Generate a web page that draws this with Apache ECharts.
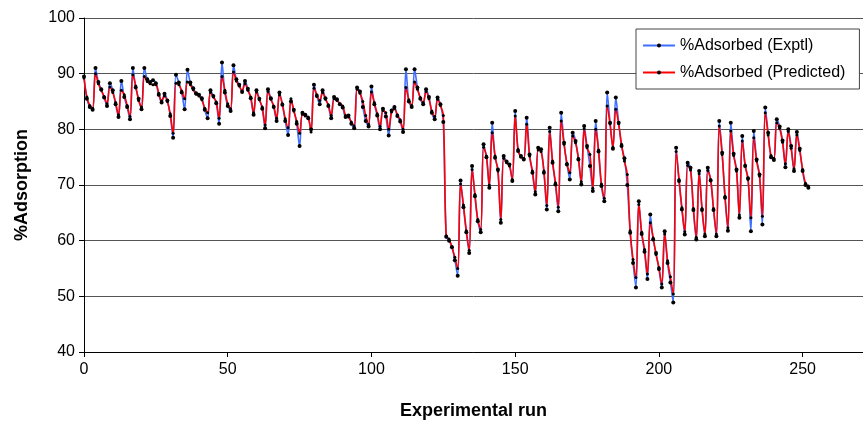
<!DOCTYPE html>
<html>
<head>
<meta charset="utf-8">
<script src="https://cdn.jsdelivr.net/npm/echarts@6/dist/echarts.min.js"></script>
<style>
  html, body { margin: 0; padding: 0; background: #fff; }
  #chart { width: 863px; height: 421px; }
</style>
</head>
<body>
<div id="chart"></div>
<script>
// %Adsorbed per experimental run (index 0..252)
const exptl = [
  89.5, 85.5, 84.0, 83.5, 91.0, 88.5, 87.2, 85.7, 84.2, 88.3,
  87.0, 84.5, 82.2, 88.7, 85.8, 84.0, 81.8, 91.0, 87.5, 85.5,
  83.6, 91.0, 89.0, 88.5, 88.8, 88.3, 86.2, 84.8, 86.4, 85.2,
  82.4, 78.5, 89.8, 88.4, 86.6, 83.6, 90.7, 88.4, 87.4, 86.5,
  86.2, 85.6, 83.5, 82.0, 87.0, 86.0, 84.7, 81.0, 92.0, 86.6,
  84.2, 83.3, 91.5, 89.0, 88.0, 86.7, 88.7, 87.3, 85.6, 82.6,
  87.0, 85.5, 83.7, 80.2, 87.2, 85.6, 84.0, 81.5, 86.6, 84.4,
  81.5, 79.0, 85.0, 83.5, 81.0, 77.0, 83.0, 82.6, 82.0, 80.0,
  88.0, 86.0, 84.5, 87.0, 85.6, 84.2, 82.0, 85.8, 85.4, 84.5,
  83.9, 82.2, 82.5, 81.0, 80.2, 87.5, 86.8, 84.0, 81.5, 80.5,
  87.7, 84.5, 82.5, 80.0, 83.7, 82.3, 78.9, 83.4, 84.0, 82.4,
  81.4, 79.5, 90.8, 85.0, 84.0, 90.8, 87.5, 85.5, 84.5, 87.2,
  85.8, 83.0, 81.8, 85.7, 84.5, 81.3, 60.7, 60.0, 58.8, 56.5,
  53.7, 70.8, 66.0, 61.5, 57.8, 73.4, 68.0, 63.5, 61.5, 77.3,
  75.0, 69.5, 81.2, 74.9, 72.8, 63.2, 75.2, 74.2, 73.7, 70.7,
  83.3, 76.1, 75.2, 74.6, 82.1, 75.5, 72.2, 68.3, 76.7, 76.4,
  72.2, 65.6, 80.3, 74.0, 70.1, 65.3, 83.0, 77.6, 73.7, 71.0,
  79.4, 77.9, 74.6, 70.1, 80.6, 77.0, 73.4, 68.9, 81.5, 76.0,
  69.8, 67.1, 86.6, 81.2, 76.5, 85.7, 81.2, 77.0, 74.8, 70.0,
  61.4, 56.0, 51.6, 67.1, 61.2, 58.0, 53.1, 64.7, 60.2, 57.8,
  54.9, 51.6, 61.7, 56.0, 52.5, 48.9, 76.7, 70.7, 65.6, 61.1,
  74.0, 73.1, 65.5, 60.2, 72.5, 65.5, 60.8, 73.1, 70.8, 65.5,
  60.8, 81.5, 75.8, 67.7, 61.8, 81.2, 75.6, 72.8, 64.1, 78.8,
  73.4, 71.2, 61.7, 79.7, 74.6, 71.9, 62.9, 83.9, 79.4, 75.0,
  74.5, 81.8, 80.5, 78.0, 73.2, 80.0, 77.0, 72.5, 79.5, 76.5,
  72.5, 70.0, 69.5
];

const predicted = [
  89.2, 85.8, 84.3, 83.8, 90.0, 88.2, 87.0, 85.9, 84.6, 87.6,
  86.6, 84.8, 82.6, 87.0, 86.2, 84.3, 82.3, 89.8, 87.8, 85.2,
  84.0, 89.5, 88.6, 88.2, 88.0, 88.0, 86.5, 85.1, 86.0, 85.0,
  82.8, 79.3, 88.3, 88.0, 86.9, 85.5, 88.5, 88.0, 87.1, 86.3,
  86.0, 85.3, 83.8, 83.0, 86.6, 85.8, 84.9, 82.0, 89.5, 87.0,
  84.6, 83.7, 90.3, 88.7, 87.8, 86.9, 88.2, 87.0, 85.8, 83.0,
  86.7, 85.3, 84.0, 80.8, 86.8, 85.4, 84.2, 82.0, 86.2, 84.6,
  81.9, 80.3, 85.5, 83.3, 81.4, 79.3, 82.7, 82.4, 82.2, 79.5,
  87.4, 86.2, 85.2, 86.6, 85.4, 84.4, 82.5, 85.5, 85.2, 84.6,
  84.2, 82.5, 82.2, 81.3, 80.6, 87.2, 86.5, 85.0, 82.5, 80.9,
  86.7, 84.8, 82.8, 80.5, 83.4, 83.0, 80.0, 83.1, 83.7, 82.6,
  81.7, 80.0, 87.5, 85.3, 84.3, 88.5, 87.2, 85.7, 84.8, 86.8,
  85.5, 83.3, 82.3, 85.4, 84.3, 82.5, 60.9, 60.3, 58.9, 57.0,
  55.0, 70.2, 66.4, 61.8, 58.3, 72.8, 68.3, 63.8, 62.0, 76.8,
  75.2, 70.0, 79.4, 75.2, 72.5, 63.8, 74.8, 74.0, 73.4, 71.0,
  82.4, 76.4, 75.0, 74.8, 80.9, 75.2, 72.5, 68.8, 76.3, 76.0,
  72.5, 66.3, 79.6, 74.3, 70.4, 66.0, 81.5, 77.3, 73.9, 72.2,
  78.8, 77.6, 74.8, 70.6, 80.1, 76.7, 75.5, 69.4, 80.0, 76.3,
  70.2, 67.6, 84.2, 81.0, 76.8, 83.6, 81.0, 77.3, 74.3, 71.9,
  61.8, 56.6, 53.4, 66.5, 61.5, 58.4, 54.0, 63.2, 60.5, 57.5,
  55.2, 52.2, 61.2, 56.4, 53.5, 50.4, 76.0, 71.0, 65.9, 61.6,
  73.5, 72.7, 65.8, 60.6, 72.0, 65.8, 61.2, 72.6, 71.0, 65.8,
  61.2, 80.6, 75.5, 68.0, 62.3, 79.7, 75.3, 72.5, 64.6, 77.9,
  73.6, 71.0, 64.1, 78.5, 74.3, 71.6, 64.4, 83.0, 79.0, 75.3,
  74.8, 81.2, 80.2, 77.7, 73.8, 79.6, 76.6, 72.9, 79.0, 76.2,
  72.8, 70.3, 69.8
];

const seriesNames = ['%Adsorbed (Exptl)', '%Adsorbed (Predicted)'];

const chart = echarts.init(document.getElementById('chart'));

const toPoints = arr => arr.map((v, i) => [i, v]);

const axisFont = { color: '#000', fontSize: 16, fontFamily: 'Liberation Sans' };
const nameFont = { color: '#000', fontSize: 18, fontWeight: 'bold', fontFamily: 'Liberation Sans' };

chart.setOption({
  animation: false,
  backgroundColor: '#fff',
  grid: { left: 84, right: 0, top: 18, bottom: 69, containLabel: false, outerBoundsMode: 'none' },
  legend: {
    data: seriesNames,
    orient: 'vertical',
    left: 636,
    top: 29,
    backgroundColor: '#fff',
    borderColor: '#444',
    borderWidth: 1,
    padding: [8, 14, 8, 6],
    itemGap: 10,
    itemWidth: 32,
    itemHeight: 5,
    textStyle: { color: '#000', fontSize: 16, fontFamily: 'Liberation Sans', lineHeight: 17 },
  },
  xAxis: {
    type: 'value',
    min: 0,
    max: 271,
    interval: 50,
    name: 'Experimental run',
    nameLocation: 'middle',
    nameGap: 50,
    nameTextStyle: nameFont,
    axisLine: { lineStyle: { color: '#000', width: 1 } },
    axisTick: { show: true, length: 5, lineStyle: { color: '#000' } },
    axisLabel: { ...axisFont, margin: 10, showMaxLabel: false },
    splitLine: { show: false },
  },
  yAxis: {
    type: 'value',
    min: 40,
    max: 100,
    interval: 10,
    name: '%Adsorption',
    nameLocation: 'middle',
    nameGap: 53,
    nameTextStyle: nameFont,
    axisLine: { show: true, lineStyle: { color: '#000', width: 1 } },
    axisTick: { show: true, length: 5, lineStyle: { color: '#000' } },
    axisLabel: { ...axisFont, margin: 9 },
    splitLine: { lineStyle: { color: '#555', width: 1 } },
  },
  series: [
    {
      name: seriesNames[0],
      type: 'line',
      data: toPoints(exptl),
      smooth: 0.35,
      symbol: 'circle',
      symbolSize: 4,
      itemStyle: { color: '#000' },
      lineStyle: { color: '#3f6fff', width: 1.6 },
    },
    {
      name: seriesNames[1],
      type: 'line',
      data: toPoints(predicted),
      smooth: 0.35,
      symbol: 'circle',
      symbolSize: 3,
      itemStyle: { color: '#000' },
      lineStyle: { color: '#ff0000', width: 1.6 },
    },
  ],
});

window.addEventListener('resize', () => chart.resize());
</script>
</body>
</html>
